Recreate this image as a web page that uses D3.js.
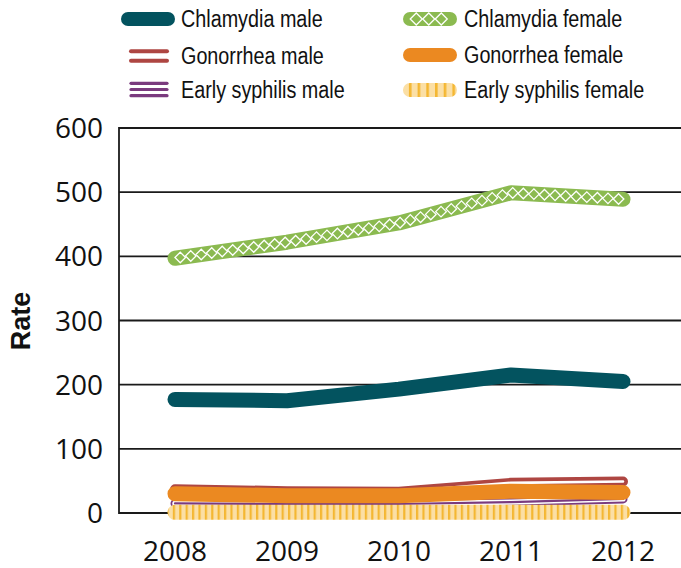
<!DOCTYPE html>
<html>
<head>
<meta charset="utf-8">
<script src="https://cdn.jsdelivr.net/npm/d3@7"></script>
<style>
  html, body { margin: 0; padding: 0; background: #fff; }
  svg { display: block; }
  .tick-label { font-family: "Open Sans", "Noto Sans", sans-serif; font-size: 28px; fill: #111; }
  .legend-label { font-family: "Liberation Sans", Arial, sans-serif; font-size: 23px; fill: #111; }
</style>
</head>
<body>
<svg id="chart" width="681" height="568"></svg>
<script>
// data
const years = ["2008", "2009", "2010", "2011", "2012"];
const yTicks = [0, 100, 200, 300, 400, 500, 600];

const chlamydiaMale = [177, 175, 193, 215, 205];
const chlamydiaFemale = [397, 422, 452, 499, 489];
const gonorrheaMale = [37, 34, 33, 47, 49];
const gonorrheaFemale = [30, 27, 27, 34, 32];
const syphilisMale = [15, 14, 14, 17, 22];
const syphilisFemale = [1, 1, 1, 1, 1];

const series = [
    { name: "Chlamydia male", values: chlamydiaMale, style: "solid", color: "#03535f" },
    { name: "Chlamydia female", values: chlamydiaFemale, style: "diamond", color: "#8bba50" },
    { name: "Gonorrhea male", values: gonorrheaMale, style: "double", color: "#ae4642" },
    { name: "Gonorrhea female", values: gonorrheaFemale, style: "solid", color: "#eb8921" },
    { name: "Early syphilis male", values: syphilisMale, style: "triple", color: "#7a3a7e" },
    { name: "Early syphilis female", values: syphilisFemale, style: "stripes", color: "#fbdfa5" }
];
// drawing order in the picture (back to front)
const drawOrder = ["Chlamydia male", "Chlamydia female", "Gonorrhea male", "Early syphilis male", "Gonorrhea female", "Early syphilis female"];

const svg = d3.select("#chart");
const plot = { left: 119, right: 681, top: 128, bottom: 513 };

const x = d3.scalePoint().domain(years).range([plot.left, plot.right - 2]).padding(0.5);
const y = d3.scaleLinear().domain([0, 600]).range([plot.bottom, plot.top]);

// stripe patterns for early syphilis female
const defs = svg.append("defs");
function stripes(id, period, w) {
    const p = defs.append("pattern").attr("id", id)
        .attr("patternUnits", "userSpaceOnUse").attr("width", period).attr("height", 10);
    p.append("rect").attr("width", period).attr("height", 10).attr("fill", "#fbdfa5");
    p.append("rect").attr("x", 0).attr("width", w).attr("height", 10).attr("fill", "#f4b732");
}
stripes("stripes", 6.4, 2.2);
stripes("stripesLegend", 8.7, 2.6);

// grid lines
svg.append("g").selectAll("line").data(yTicks).join("line")
    .attr("x1", plot.left).attr("x2", plot.right)
    .attr("y1", d => y(d)).attr("y2", d => y(d))
    .attr("stroke", "#1a1a1a").attr("stroke-width", 1.8);

svg.append("line")
    .attr("x1", plot.left).attr("x2", plot.left)
    .attr("y1", plot.top - 1).attr("y2", plot.bottom + 1)
    .attr("stroke", "#1a1a1a").attr("stroke-width", 1.8);

// y tick labels
svg.append("g").selectAll("text").data(yTicks).join("text")
    .attr("class", "tick-label")
    .attr("x", 103).attr("y", d => y(d) + 10)
    .attr("text-anchor", "end")
    .text(d => d);

// x tick labels
svg.append("g").selectAll("text").data(years).join("text")
    .attr("class", "tick-label")
    .attr("x", d => x(d)).attr("y", 561)
    .attr("text-anchor", "middle")
    .text(d => d);

svg.append("text")
    .attr("transform", "translate(30,321) rotate(-90)")
    .attr("text-anchor", "middle")
    .attr("font-family", "'Liberation Sans', Arial, sans-serif")
    .attr("font-weight", "bold").attr("font-size", 27).attr("fill", "#111")
    .text("Rate");

const line = d3.line().x((d, i) => x(years[i])).y(d => y(d));

// white diamond chain laid along a path
function diamondChain(g, pathNode, size, step) {
    const len = pathNode.getTotalLength();
    const pts = d3.range(step / 2, len, step).map(l => pathNode.getPointAtLength(l));
    g.append("g").selectAll("path").data(pts).join("path")
        .attr("d", p => `M${p.x - size},${p.y}L${p.x},${p.y - size}L${p.x + size},${p.y}L${p.x},${p.y + size}Z`)
        .attr("fill", "none").attr("stroke", "#fff").attr("stroke-width", 1.3);
}

function drawStyled(g, d, s, wide) {
    const add = (stroke, w) => g.append("path").attr("d", d)
        .attr("fill", "none").attr("stroke", stroke).attr("stroke-width", w)
        .attr("stroke-linecap", "round").attr("stroke-linejoin", "round");
    if (s.style === "solid") add(s.color, wide);
    else if (s.style === "diamond") {
        const p = add(s.color, wide);
        diamondChain(g, p.node(), wide < 15 ? 6 : 5.3, wide < 15 ? 12.5 : 10.6);
    }
    else if (s.style === "stripes") add(wide < 15 ? "url(#stripesLegend)" : "url(#stripes)", wide);
    else if (s.style === "double") { add(s.color, 10); add("#fff", 2.6); }
    else if (s.style === "triple") { add(s.color, 9); add("#fff", 5.4); add(s.color, 2.2); }
}

const lines = svg.append("g");
drawOrder.forEach(name => {
    const s = series.find(d => d.name === name);
    drawStyled(lines.append("g"), line(s.values), s, 15);
});

// legend
const legendPos = [
    { x: 128, y: 19 }, { x: 410, y: 19 },
    { x: 131, y: 56 }, { x: 410, y: 55 },
    { x: 131, y: 89.5 }, { x: 410, y: 90 }
];
const legend = svg.append("g");
series.forEach((s, i) => {
    const p = legendPos[i];
    const g = legend.append("g");
    const w = s.style === "double" || s.style === "triple" ? 36 : 40;
    const d = `M${p.x},${p.y}L${p.x + w},${p.y}`;
    if (s.style === "double") {
        [-4.8, 4.8].forEach(o => g.append("line")
            .attr("x1", p.x).attr("x2", p.x + w).attr("y1", p.y + o).attr("y2", p.y + o)
            .attr("stroke", s.color).attr("stroke-width", 4).attr("stroke-linecap", "round"));
    } else if (s.style === "triple") {
        [-6.2, 0, 6.2].forEach(o => g.append("line")
            .attr("x1", p.x).attr("x2", p.x + w).attr("y1", p.y + o).attr("y2", p.y + o)
            .attr("stroke", s.color).attr("stroke-width", 3.2).attr("stroke-linecap", "round"));
    } else {
        drawStyled(g, d, s, 14);
    }
    g.append("text").attr("class", "legend-label")
        .attr("transform", `translate(${i % 2 === 0 ? 181 : 464},${p.y + 8}) scale(0.86,1)`)
        .text(s.name);
});
</script>
</body>
</html>
